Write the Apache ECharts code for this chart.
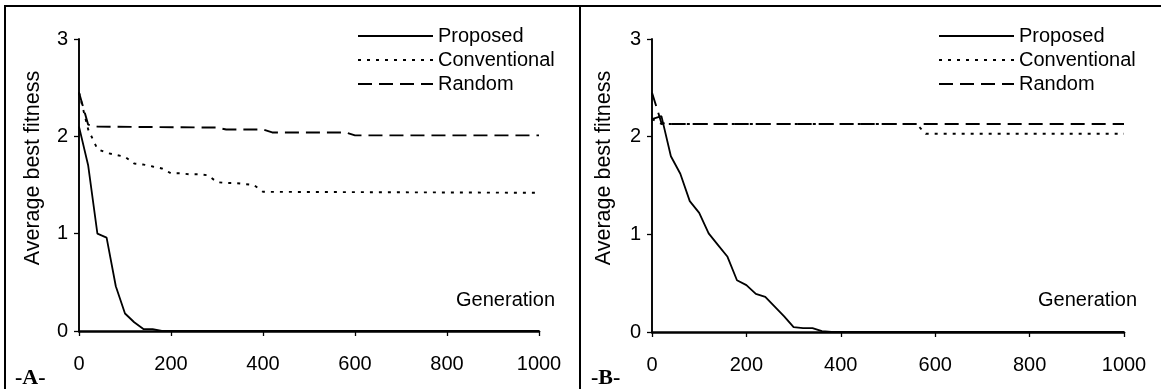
<!DOCTYPE html>
<html>
<head>
<meta charset="utf-8">
<script src="https://cdn.jsdelivr.net/npm/echarts@6/dist/echarts.min.js"></script>
<style>
html,body{margin:0;padding:0;background:#fff;}
#c{width:1161px;height:389px;}
</style>
</head>
<body>
<div id="c"></div>
<script>
// ---- Data ----
const seriesNames = ['Proposed', 'Conventional', 'Random'];
const xTicks = [0, 200, 400, 600, 800, 1000];
const yTicks = [0, 1, 2, 3];

// Panel A
const genA_proposed = [0, 20, 40, 60, 80, 100, 120, 140, 160, 180, 1000];
const valA_proposed = [2.10, 1.70, 1.00, 0.96, 0.46, 0.18, 0.09, 0.02, 0.02, 0.00, 0.00];
const genA_conventional = [0, 20, 40, 60, 80, 100, 120, 140, 160, 180, 200, 220, 240, 260, 280, 300, 320, 340, 360, 380, 400, 1000];
const valA_conventional = [2.45, 2.07, 1.87, 1.83, 1.81, 1.79, 1.72, 1.71, 1.69, 1.67, 1.62, 1.62, 1.61, 1.61, 1.60, 1.53, 1.52, 1.52, 1.51, 1.50, 1.43, 1.42];
const genA_random = [0, 20, 40, 300, 320, 400, 420, 580, 600, 1000];
const valA_random = [2.45, 2.12, 2.10, 2.09, 2.07, 2.07, 2.04, 2.04, 2.01, 2.01];

// Panel B
const genB_proposed = [0, 20, 40, 60, 80, 100, 120, 140, 160, 180, 200, 220, 240, 260, 280, 300, 320, 340, 360, 380, 1000];
const valB_proposed = [2.18, 2.21, 1.80, 1.62, 1.34, 1.22, 1.01, 0.89, 0.77, 0.53, 0.48, 0.39, 0.36, 0.26, 0.16, 0.05, 0.04, 0.04, 0.01, 0.00, 0.00];
const genB_conventional = [0, 20, 560, 580, 1000];
const valB_conventional = [2.18, 2.13, 2.13, 2.03, 2.03];
const genB_random = [0, 20, 40, 1000];
const valB_random = [2.45, 2.14, 2.13, 2.13];

const panelLabels = ['-A-', '-B-'];
const xName = 'Generation';
const yName = 'Average best fitness';

// ---- Build ----
const zip = (xs, ys) => xs.map((x, i) => [x, ys[i]]);
const FONT = '"Liberation Sans", Arial, sans-serif';
const styles = {
  Proposed: { type: 'solid', width: 1.8 },
  Conventional: { type: [3, 6], width: 1.9 },
  Random: { type: [14, 7], width: 1.9 }
};

function mkSeries(name, gi, data) {
  return {
    type: 'line', name: name, xAxisIndex: gi, yAxisIndex: gi,
    data: data, symbol: 'none', silent: true,
    lineStyle: { color: '#000', width: styles[name].width, type: styles[name].type },
    itemStyle: { color: '#000' }
  };
}

const grids = [
  { left: 79, top: 39, width: 460, height: 292 },
  { left: 652, top: 39, width: 472, height: 293 }
];

function xAxis(gi) {
  return {
    type: 'value', gridIndex: gi, min: 0, max: 1000, interval: 200,
    axisLine: { lineStyle: { color: '#000', width: 2.5 } },
    axisTick: { show: true, length: 5, lineStyle: { color: '#000', width: 1.3 } },
    axisLabel: { color: '#000', fontSize: 20, fontFamily: FONT, margin: 23, formatter: v => String(v) },
    splitLine: { show: false }
  };
}
function yAxis(gi) {
  return {
    type: 'value', gridIndex: gi, min: 0, max: 3, interval: 1,
    axisLine: { show: true, lineStyle: { color: '#000', width: 1.9 } },
    axisTick: { show: true, length: 5, lineStyle: { color: '#000', width: 1.3 } },
    axisLabel: { color: '#000', fontSize: 20, fontFamily: FONT, margin: 11, formatter: v => String(v) },
    splitLine: { show: false }
  };
}

function legend(left) {
  return {
    data: seriesNames, orient: 'vertical', left: left, top: 21,
    itemWidth: 75, itemHeight: 14, itemGap: 4, selectedMode: false,
    itemStyle: { opacity: 0 },
    textStyle: { color: '#000', fontSize: 20, fontFamily: FONT }
  };
}

const option = {
  animation: false,
  backgroundColor: '#fff',
  grid: grids,
  xAxis: [xAxis(0), xAxis(1)],
  yAxis: [yAxis(0), yAxis(1)],
  legend: [legend(352), legend(933)],
  series: [
    mkSeries('Proposed', 0, zip(genA_proposed, valA_proposed)),
    mkSeries('Conventional', 0, zip(genA_conventional, valA_conventional)),
    mkSeries('Random', 0, zip(genA_random, valA_random)),
    mkSeries('Proposed', 1, zip(genB_proposed, valB_proposed)),
    mkSeries('Conventional', 1, zip(genB_conventional, valB_conventional)),
    mkSeries('Random', 1, zip(genB_random, valB_random))
  ],
  graphic: [
    { type: 'line', shape: { x1: 4, y1: 6, x2: 1161, y2: 6 }, style: { stroke: '#000', lineWidth: 2 } },
    { type: 'line', shape: { x1: 5, y1: 5, x2: 5, y2: 389 }, style: { stroke: '#000', lineWidth: 2 } },
    { type: 'line', shape: { x1: 580, y1: 5, x2: 580, y2: 389 }, style: { stroke: '#000', lineWidth: 2 } },
    { type: 'text', x: 15, y: 378, style: { text: panelLabels[0], font: 'bold 22px "Liberation Serif", "Times New Roman", serif', fill: '#000', verticalAlign: 'middle' } },
    { type: 'text', x: 591, y: 378, style: { text: panelLabels[1], font: 'bold 22px "Liberation Serif", "Times New Roman", serif', fill: '#000', verticalAlign: 'middle' } },
    { type: 'text', x: 555, y: 300, style: { text: xName, font: '20px ' + FONT, fill: '#000', align: 'right', verticalAlign: 'middle' } },
    { type: 'text', x: 1137, y: 300, style: { text: xName, font: '20px ' + FONT, fill: '#000', align: 'right', verticalAlign: 'middle' } },
    { type: 'text', x: 33, y: 168, rotation: Math.PI / 2, style: { text: yName, font: '21.5px ' + FONT, fill: '#000', align: 'center', verticalAlign: 'middle' } },
    { type: 'text', x: 604, y: 168, rotation: Math.PI / 2, style: { text: yName, font: '21.5px ' + FONT, fill: '#000', align: 'center', verticalAlign: 'middle' } }
  ]
};

const chart = echarts.init(document.getElementById('c'), null, { renderer: 'canvas' });
chart.setOption(option);
</script>
</body>
</html>
